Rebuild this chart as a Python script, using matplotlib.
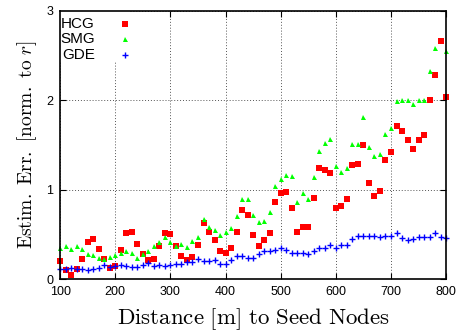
import numpy as np
import matplotlib
matplotlib.use("Agg")
from matplotlib import pyplot as plt
from matplotlib.patches import Rectangle

plt.rcParams['font.family'] = ['Liberation Sans', 'DejaVu Sans']
plt.rcParams['mathtext.fontset'] = 'cm'

# distance to seed nodes, 10 m steps
dist = np.arange(100, 801, 10)

hcg = [0.21, 0.10, 0.05, 0.12, 0.23, 0.42, 0.45, 0.34, 0.23, 0.13,
       0.15, 0.33, 0.52, 0.53, 0.40, 0.28, 0.22, 0.23, 0.37, 0.52,
       0.51, 0.37, 0.26, 0.22, 0.25, 0.38, 0.63, 0.53, 0.44, 0.32,
       0.30, 0.35, 0.53, 0.78, 0.72, 0.50, 0.37, 0.44, 0.52, 0.87,
       0.96, 0.98, 0.80, 0.53, 0.59, 0.58, 0.91, 1.25, 1.22, 1.19,
       0.80, 0.82, 0.90, 1.28, 1.29, 1.50, 1.08, 0.93, 0.99, 1.33,
       1.42, 1.72, 1.66, 1.56, 1.46, 1.56, 1.61, 2.01, 2.28, 2.66,
       2.04]
smg = [0.35, 0.37, 0.34, 0.37, 0.34, 0.28, 0.27, 0.24, 0.23, 0.25,
       0.27, 0.30, 0.32, 0.29, 0.24, 0.28, 0.32, 0.37, 0.42, 0.47,
       0.42, 0.37, 0.40, 0.36, 0.43, 0.47, 0.68, 0.59, 0.55, 0.50,
       0.53, 0.57, 0.71, 0.90, 0.90, 0.72, 0.64, 0.65, 0.75, 1.04,
       1.12, 1.17, 1.16, 0.87, 0.96, 0.90, 1.14, 1.44, 1.52, 1.57,
       1.27, 1.20, 1.25, 1.51, 1.51, 1.82, 1.48, 1.38, 1.40, 1.63,
       1.69, 1.99, 2.01, 2.01, 1.96, 2.00, 2.00, 2.33, 2.59, np.nan,
       2.55]
gde = [0.12, 0.12, 0.13, 0.12, 0.12, 0.11, 0.12, 0.13, 0.16, 0.14,
       0.15, 0.16, 0.15, 0.14, 0.14, 0.16, 0.18, 0.15, 0.16, 0.15,
       0.16, 0.17, 0.17, 0.19, 0.19, 0.23, 0.21, 0.20, 0.22, 0.17,
       0.17, 0.22, 0.26, 0.26, 0.24, 0.24, 0.28, 0.32, 0.32, 0.33,
       0.35, 0.33, 0.29, 0.29, 0.29, 0.28, 0.32, 0.35, 0.35, 0.38,
       0.35, 0.38, 0.38, 0.45, 0.48, 0.48, 0.49, 0.48, 0.47, 0.49,
       0.48, 0.52, 0.46, 0.44, 0.45, 0.47, 0.47, 0.47, 0.52, 0.47,
       0.46]

labels = ['HCG', 'SMG', 'GDE']
xticks = [100, 200, 300, 400, 500, 600, 700, 800]
yticks = [0, 1, 2, 3]

styles = [dict(marker='s', color='#ff0000', markersize=5, mew=0),
          dict(marker='^', color='#00ff00', markersize=3.6, mew=0),
          dict(marker='+', color='#0000ff', markersize=5, mew=1.0)]

fig = plt.figure(figsize=(4.59, 3.33), dpi=100)
ax = fig.add_axes([0.131, 0.161, 0.841, 0.806])

for ys, st in zip([hcg, smg, gde], styles):
    ax.plot(dist, ys, linestyle='none', clip_on=False, zorder=3, **st)

ax.set_xlim(100, 800)
ax.set_ylim(0, 3)
ax.set_xticks(xticks)
ax.set_yticks(yticks)
ax.tick_params(direction='in', top=True, right=True, length=4, width=0.8,
               labelsize=9, pad=5)
ax.grid(True, linestyle=(0, (1, 2)), color='#555555', linewidth=0.7)
ax.set_axisbelow(True)
for s in ax.spines.values():
    s.set_linewidth(1.2)
    s.set_zorder(4)

ax.set_xlabel(r'$\mathrm{Distance\ [m]\ to\ Seed\ Nodes}$', fontsize=16.5, labelpad=6)
ax.set_ylabel(r'$\mathrm{Estim.\ Err.\ [norm.\ to\ }r\mathrm{]}$', fontsize=14, labelpad=5)

# gnuplot-style key: right-aligned names, sample marker to the right
ax.add_patch(Rectangle((0, 0.81), 0.18, 0.19, transform=ax.transAxes,
                       facecolor='white', edgecolor='none', zorder=2))
for i, (name, st) in enumerate(zip(labels, styles)):
    yk = 0.952 - i * 0.058
    ax.text(0.09, yk, name, transform=ax.transAxes, ha='right', va='center',
            fontsize=11, zorder=5)
    ax.plot([0.168], [yk], transform=ax.transAxes, linestyle='none',
            clip_on=False, zorder=5, **st)

fig.savefig('out.png', dpi=100)
